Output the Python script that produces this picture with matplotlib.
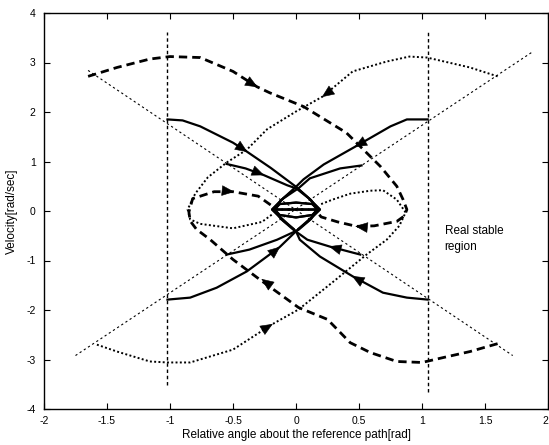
import numpy as np
import matplotlib
matplotlib.use("Agg")
import matplotlib.pyplot as plt

plt.rcParams["font.family"] = ["Liberation Sans", "DejaVu Sans"]
plt.rcParams["axes.unicode_minus"] = False

# switching lines (thin dotted) and region bounds (vertical dotted)
LINE_A_X = [-1.65, 1.72]
LINE_A_Y = [2.84, -2.92]
LINE_B_X = [-1.75, 1.88]
LINE_B_Y = [-2.92, 3.22]
BOUND_X = [-1.02, 1.045]
BOUND_YLO = [-3.52, -3.66]
BOUND_YHI = [3.62, 3.62]

# dashed trajectories
D1_X = [-1.65, -1.42, -1.16, -1.0, -0.76, -0.5, -0.31, -0.21, 0.06, 0.4, 0.67, 0.8, 0.85,
        0.88, 0.86, 0.8, 0.62, 0.48, 0.33, 0.2, 0.15, 0.0, -0.13]
D1_Y = [2.72, 2.9, 3.07, 3.12, 3.1, 2.82, 2.51, 2.39, 2.11, 1.58, 0.9, 0.5, 0.23,
        0.03, -0.1, -0.21, -0.3, -0.31, -0.22, -0.12, 0.03, 0.03, 0.03]
D2_X = [1.6, 1.38, 1.17, 1.0, 0.8, 0.59, 0.43, 0.25, 0.02, -0.29, -0.5, -0.68, -0.79,
        -0.84, -0.85, -0.82, -0.65, -0.5, -0.3, -0.2, -0.15, 0.0, 0.13]
D2_Y = [-2.68, -2.84, -2.96, -3.06, -3.04, -2.86, -2.66, -2.19, -1.95, -1.38, -0.98, -0.58, -0.37,
        -0.2, -0.02, 0.25, 0.39, 0.39, 0.3, 0.12, 0.03, 0.03, 0.03]

# dotted trajectories
P1_X = [1.6, 1.38, 1.04, 0.9, 0.72, 0.45, 0.21, 0.0, -0.23, -0.39, -0.55, -0.7, -0.8,
        -0.86, -0.84, -0.76, -0.5, -0.27, -0.19]
P1_Y = [2.72, 2.9, 3.1, 3.12, 3.02, 2.82, 2.31, 2.01, 1.65, 1.24, 0.98, 0.68, 0.35,
        0.03, -0.17, -0.26, -0.35, -0.22, -0.07]
P2_X = [-1.58, -1.42, -1.16, -1.02, -0.84, -0.5, -0.19, 0.02, 0.29, 0.56, 0.72, 0.82,
        0.87, 0.8, 0.69, 0.59, 0.43, 0.29, 0.19]
P2_Y = [-2.7, -2.84, -3.04, -3.06, -3.06, -2.8, -2.29, -1.99, -1.44, -0.88, -0.58, -0.3,
        -0.03, 0.23, 0.42, 0.41, 0.35, 0.23, 0.13]

# solid trajectories (outer start on the bounds, inner start on the switching lines)
S1_X = [-1.02, -0.9, -0.76, -0.5, -0.39, -0.2, 0.0, 0.1, 0.19, 0.1, 0.02]
S1_Y = [1.85, 1.83, 1.71, 1.38, 1.2, 0.87, 0.49, 0.26, 0.03, -0.2, -0.36]
S2_X = [-0.55, -0.4, -0.26, -0.07, 0.02, 0.12, 0.17, 0.13, 0.0, -0.13, -0.17]
S2_Y = [0.95, 0.86, 0.73, 0.52, 0.44, 0.22, 0.03, -0.08, -0.13, -0.08, 0.03]
S3_X = [1.045, 0.88, 0.75, 0.47, 0.22, 0.06, 0.0, -0.1, -0.19, -0.1, -0.02]
S3_Y = [1.85, 1.85, 1.71, 1.3, 0.94, 0.64, 0.49, 0.26, 0.03, -0.2, -0.36]
S4_X = [0.52, 0.35, 0.11, 0.02, -0.12, -0.17, -0.13, 0.0, 0.13, 0.17]
S4_Y = [0.92, 0.86, 0.66, 0.46, 0.22, 0.03, -0.08, -0.13, -0.08, 0.03]
S5_X = [1.045, 0.88, 0.69, 0.45, 0.19, 0.03, 0.0, -0.1, -0.19, -0.1, -0.02]
S5_Y = [-1.79, -1.75, -1.65, -1.32, -0.92, -0.58, -0.41, -0.18, 0.03, 0.26, 0.42]
S6_X = [-1.02, -0.84, -0.63, -0.39, -0.13, 0.0, 0.1, 0.19, 0.1, 0.02]
S6_Y = [-1.79, -1.75, -1.55, -1.22, -0.73, -0.41, -0.18, 0.03, 0.26, 0.42]
S7_X = [0.51, 0.27, 0.09, -0.02, -0.12, -0.17, -0.13, 0.0, 0.13, 0.17]
S7_Y = [-0.88, -0.72, -0.58, -0.38, -0.16, 0.03, 0.14, 0.17, 0.14, 0.03]
S8_X = [-0.55, -0.37, -0.15, 0.02, 0.12, 0.17, 0.13, 0.0, -0.13, -0.17]
S8_Y = [-0.88, -0.78, -0.58, -0.38, -0.16, 0.03, 0.14, 0.17, 0.14, 0.03]

# arrow head positions on each trajectory
D1_ARROWS = [(-0.31, 2.51), (0.48, -0.31)]
D2_ARROWS = [(-0.27, -1.38), (-0.5, 0.39)]
P1_ARROWS = [(0.21, 2.31)]
P2_ARROWS = [(-0.19, -2.29)]
S1_ARROWS = [(-0.39, 1.2)]
S2_ARROWS = [(-0.26, 0.73)]
S3_ARROWS = [(0.47, 1.3)]
S5_ARROWS = [(0.45, -1.32)]
S6_ARROWS = [(-0.13, -0.73)]
S7_ARROWS = [(0.27, -0.72)]

XTICKS = [-2, -1.5, -1, -0.5, 0, 0.5, 1, 1.5, 2]
YTICKS = [-4, -3, -2, -1, 0, 1, 2, 3, 4]


def add_arrows(ax, xs, ys, points):
    xs = np.asarray(xs); ys = np.asarray(ys)
    for px, py in points:
        d = (xs - px) ** 2 + (ys - py) ** 2
        i = int(np.argmin(d))
        j0, j1 = max(i - 1, 0), min(i + 1, len(xs) - 1)
        dx, dy = xs[j1] - xs[j0], ys[j1] - ys[j0]
        n = np.hypot(dx, dy)
        dx, dy = dx / n * 0.01, dy / n * 0.01
        ax.annotate("", xy=(px + dx, py + dy), xytext=(px - dx, py - dy),
                    arrowprops=dict(arrowstyle="-|>,head_length=0.75,head_width=0.32",
                                    fc="k", ec="k", lw=0.4, shrinkA=0, shrinkB=0,
                                    mutation_scale=11))


fig = plt.figure(figsize=(5.49, 4.45), dpi=100)
ax = fig.add_axes([44 / 549, 1 - 409 / 445, 504 / 549, 396 / 445])

ax.plot(LINE_A_X, LINE_A_Y, color="k", lw=0.8, dashes=(2, 2.5))
ax.plot(LINE_B_X, LINE_B_Y, color="k", lw=0.8, dashes=(2, 2.5))
for bx, lo, hi in zip(BOUND_X, BOUND_YLO, BOUND_YHI):
    ax.plot([bx, bx], [lo, hi], color="k", lw=1.0, dashes=(2.5, 2))

for xs, ys in [(D1_X, D1_Y), (D2_X, D2_Y)]:
    ax.plot(xs, ys, color="k", lw=2.0, dashes=(3, 1.8))
for xs, ys in [(P1_X, P1_Y), (P2_X, P2_Y)]:
    ax.plot(xs, ys, color="k", lw=1.4, dashes=(1, 1.2))
for xs, ys in [(S1_X, S1_Y), (S2_X, S2_Y), (S3_X, S3_Y), (S4_X, S4_Y),
               (S5_X, S5_Y), (S6_X, S6_Y), (S7_X, S7_Y), (S8_X, S8_Y)]:
    ax.plot(xs, ys, color="k", lw=1.6, solid_joinstyle="round")

add_arrows(ax, D1_X, D1_Y, D1_ARROWS)
add_arrows(ax, D2_X, D2_Y, D2_ARROWS)
add_arrows(ax, P1_X, P1_Y, P1_ARROWS)
add_arrows(ax, P2_X, P2_Y, P2_ARROWS)
add_arrows(ax, S1_X, S1_Y, S1_ARROWS)
add_arrows(ax, S2_X, S2_Y, S2_ARROWS)
add_arrows(ax, S3_X, S3_Y, S3_ARROWS)
add_arrows(ax, S5_X, S5_Y, S5_ARROWS)
add_arrows(ax, S6_X, S6_Y, S6_ARROWS)
add_arrows(ax, S7_X, S7_Y, S7_ARROWS)

ax.text(1.18, -0.56, "Real stable\nregion", fontsize=8.5, va="center", ha="left",
        linespacing=1.45)

ax.set_xlim(-2, 2)
ax.set_ylim(-4, 4)
ax.set_xticks(XTICKS)
ax.set_yticks(YTICKS)
ax.set_xticklabels([f"{t:g}" for t in XTICKS])
ax.set_yticklabels([f"{t:g}" for t in YTICKS])
ax.tick_params(direction="in", top=True, right=True, length=4, width=0.8,
               labelsize=7.5)
ax.tick_params(axis="x", pad=5)
ax.tick_params(axis="y", pad=6)
ax.get_xticklabels()[-1].set_horizontalalignment("right")
for s in ax.spines.values():
    s.set_linewidth(1.0)
ax.set_xlabel("Relative angle about the reference path[rad]", fontsize=8.5, labelpad=2)
ax.set_ylabel("Velocity[rad/sec]", fontsize=8.5, labelpad=6)

fig.savefig("out.png", dpi=100)
